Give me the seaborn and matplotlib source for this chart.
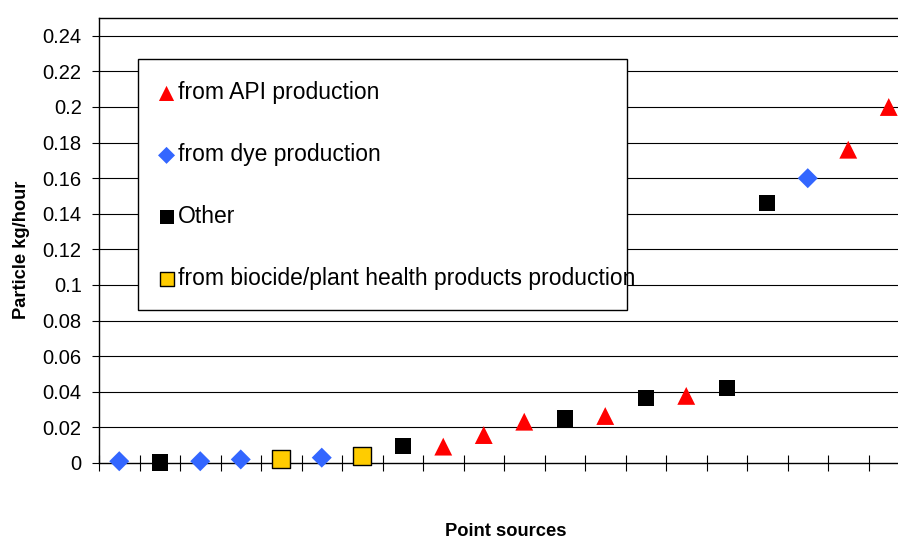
import pandas as pd
import seaborn as sns
import matplotlib.pyplot as plt
from matplotlib.patches import Rectangle
from matplotlib.ticker import FixedLocator

# Data (point sources ranked by emission)
source_index = list(range(1, 21))
particle_kg_h = [0.001, 0.0002, 0.001, 0.002, 0.002, 0.003, 0.004, 0.0097, 0.0092, 0.0157,
                 0.0232, 0.0251, 0.0264, 0.0365, 0.0377, 0.0422, 0.146, 0.160, 0.176, 0.200]
source_type = ["dye", "other", "dye", "dye", "biocide", "dye", "biocide", "other", "api", "api",
               "api", "other", "api", "other", "api", "other", "other", "dye", "api", "api"]

legend_labels = {
    "api": "from API production",
    "dye": "from dye production",
    "other": "Other",
    "biocide": "from biocide/plant health products production",
}
y_ticks = [0, 0.02, 0.04, 0.06, 0.08, 0.1, 0.12, 0.14, 0.16, 0.18, 0.2, 0.22, 0.24]

styles = {
    "api": dict(marker="^", color="#FF0000", edgecolor="none", s=165),
    "dye": dict(marker="D", color="#3366FF", edgecolor="none", s=104),
    "other": dict(marker="s", color="#000000", edgecolor="none", s=140),
    "biocide": dict(marker="s", color="#FFCC00", edgecolor="#000000", linewidth=1.0, s=150),
}

df = pd.DataFrame({"x": source_index, "value": particle_kg_h, "type": source_type})

sns.set_style("white")
plt.rcParams["font.family"] = ["Liberation Sans", "DejaVu Sans"]
plt.rcParams["text.color"] = "black"
plt.rcParams["axes.labelcolor"] = "black"
plt.rcParams["xtick.color"] = "black"
plt.rcParams["ytick.color"] = "black"

fig = plt.figure(figsize=(8.98, 5.41), dpi=100)
# axes run slightly past the right edge, as in the original
ax = fig.add_axes([99 / 898, 1 - 463 / 541, 810 / 898, 445 / 541])

for key in ["api", "dye", "other", "biocide"]:
    sub = df[df["type"] == key]
    sns.scatterplot(data=sub, x="x", y="value", ax=ax, label=legend_labels[key],
                    zorder=3, clip_on=False, **styles[key])

ax.set_xlim(0.5, 20.5)
ax.set_ylim(0, 0.25)
ax.set_yticks(y_ticks)
ax.set_yticklabels([f"{v:g}" for v in y_ticks], fontsize=14.5)
ax.xaxis.set_major_locator(FixedLocator([i + 0.5 for i in range(0, 21)]))
ax.set_xticklabels([])
ax.tick_params(axis="x", bottom=True, direction="inout", length=11, width=0.8, color="black")
ax.tick_params(axis="y", left=True, direction="out", length=5, width=0.8, color="black", pad=7.5)

for v in y_ticks[1:]:
    ax.axhline(v, color="black", lw=0.8, zorder=1)

for side in ["left", "bottom", "top", "right"]:
    ax.spines[side].set_color("black")
    ax.spines[side].set_linewidth(1.0)

ax.set_xlabel("Point sources", fontsize=13.2, fontweight="bold", va="center")
ax.xaxis.set_label_coords((506 - 99) / 810, (463 - 531) / 445)
ax.set_ylabel("Particle kg/hour", fontsize=13.2, fontweight="bold", va="center")
ax.yaxis.set_label_coords((22 - 99) / 810, (463 - 250) / 445)

# legend entries, frame drawn separately so the long label can touch its edge
leg = ax.legend(loc="upper left", bbox_to_anchor=(0.048, 0.908 - 3 / 445), fontsize=16.5,
                frameon=False, markerscale=0.85, handletextpad=0.1, handlelength=0.8,
                labelspacing=1.7, borderpad=0.85, borderaxespad=0, labelcolor="black")
leg.set_zorder(5)
ax.add_patch(Rectangle(((138 - 99) / 810, (463 - 310) / 445), (627 - 138) / 810,
                       (310 - 59) / 445, transform=ax.transAxes, facecolor="white",
                       edgecolor="black", lw=1.0, zorder=4))

fig.savefig("out.png", dpi=100)
